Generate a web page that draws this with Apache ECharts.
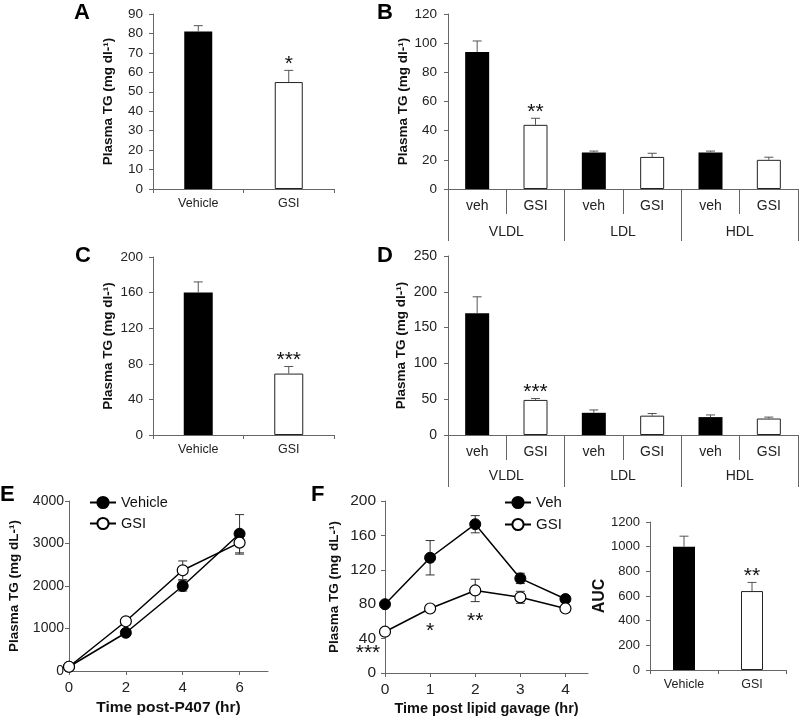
<!DOCTYPE html>
<html>
<head>
<meta charset="utf-8">
<script src="https://cdn.jsdelivr.net/npm/echarts@6/dist/echarts.min.js"></script>
<style>
  html, body { margin: 0; padding: 0; background: #fff; }
  #chart { width: 800px; height: 718px; }
</style>
</head>
<body>
<div id="chart"></div>
<script>
// ---- data ----
// A: total plasma TG
const aCats = ['Vehicle', 'GSI'];
const aVals = [81, 55];
const aErr = [3, 6];
const aStars = ['', '*'];

// B: lipoprotein fractions
const fracCats = ['veh', 'GSI', 'veh', 'GSI', 'veh', 'GSI'];
const lipoGroups = ['VLDL', 'LDL', 'HDL'];
const bVals = [94, 44, 25, 22, 25, 20];
const bErr = [7.5, 4.5, 1, 2.5, 1, 1.8];
const bStars = ['', '**', '', '', '', ''];

// C
const cCats = ['Vehicle', 'GSI'];
const cVals = [160, 69];
const cErr = [12, 8];
const cStars = ['', '***'];

// D
const dVals = [170, 49, 31, 27, 25, 23];
const dErr = [23, 2, 4, 3, 3, 2];
const dStars = ['', '***', '', '', '', ''];

// E: P407 time course
const eTime = [0, 2, 4, 6];
const eVeh = [100, 900, 2000, 3230];
const eVehErr = [40, 60, 120, 450];
const eGsi = [100, 1170, 2370, 3020];
const eGsiErr = [40, 60, 220, 270];

// F: lipid gavage time course
const fTime = [0, 1, 2, 3, 4];
const fVeh = [80, 134, 173, 110, 86];
const fVehErr = [2, 20, 10, 6, 3];
const fGsi = [48, 75, 96, 88, 75];
const fGsiErr = [2, 3, 13, 7, 3];
const fStars = ['***', '*', '**', '', ''];

// AUC
const aucCats = ['Vehicle', 'GSI'];
const aucVals = [1000, 640];
const aucErr = [85, 70];
const aucStars = ['', '**'];

const FONT = '"Liberation Sans", Arial, sans-serif';
const AXIS = '#666';
const TG_DL = 'Plasma TG (mg dl-\u00b9)';
const TG_DLL = 'Plasma TG (mg dL-\u00b9)';

let myChart = echarts.init(document.getElementById('chart'), null, { renderer: 'canvas' });

function yAx(grid, max, interval, name, gap, labelSize, nameSize, margin) {
    return {
        type: 'value', gridIndex: grid, min: 0, max: max, interval: interval,
        name: name, nameLocation: 'middle', nameGap: gap,
        nameTextStyle: { fontFamily: FONT, fontWeight: 'bold', fontSize: nameSize, color: '#111' },
        axisLine: { show: true, lineStyle: { color: AXIS } },
        axisTick: { show: true, length: 4, lineStyle: { color: AXIS } },
        axisLabel: {
            fontFamily: FONT, fontSize: labelSize, color: '#222', margin: margin,
            formatter: function (v) { return String(v); }   // no thousands separator
        },
        splitLine: { show: false }
    };
}

function catAx(grid, cats, fontSize, margin, tickLen) {
    return {
        type: 'category', gridIndex: grid, data: cats, position: 'bottom',
        axisLine: { show: true, lineStyle: { color: AXIS } },
        axisTick: { show: true, length: tickLen, lineStyle: { color: AXIS } },
        axisLabel: { fontFamily: FONT, fontSize: fontSize, color: '#222', margin: margin, interval: 0 }
    };
}

// second row of labels under B / D (VLDL, LDL, HDL)
function groupAx(grid, margin) {
    return {
        type: 'category', gridIndex: grid, data: lipoGroups, position: 'bottom', offset: 0,
        axisLine: { show: false },
        axisTick: { show: true, length: 52, lineStyle: { color: AXIS } },
        axisLabel: { fontFamily: FONT, fontSize: 14, color: '#222', margin: margin, interval: 0 }
    };
}

function barSeries(xi, yi, vals, width) {
    return {
        type: 'bar', xAxisIndex: xi, yAxisIndex: yi, barWidth: width, silent: true,
        data: vals.map((v, i) => ({
            value: v,
            itemStyle: i % 2 === 0
                ? { color: '#000', borderColor: '#000', borderWidth: 0 }
                : { color: '#fff', borderColor: '#222', borderWidth: 1 }
        }))
    };
}

// upward-only error bar (Excel style) + significance stars above it
function barErr(xi, yi, vals, errs, stars) {
    return {
        type: 'custom', xAxisIndex: xi, yAxisIndex: yi, z: 3, silent: true,
        data: vals.map((v, i) => [i, v, v + errs[i]]),
        renderItem: function (params, api) {
            let base = api.coord([api.value(0), api.value(1)]);
            let top = api.coord([api.value(0), api.value(2)]);
            let kids = [
                { type: 'line', shape: { x1: top[0], y1: base[1], x2: top[0], y2: top[1] }, style: { stroke: '#555', lineWidth: 1 } },
                { type: 'line', shape: { x1: top[0] - 4.5, y1: top[1], x2: top[0] + 4.5, y2: top[1] }, style: { stroke: '#555', lineWidth: 1 } }
            ];
            let s = stars[params.dataIndex];
            if (s) {
                kids.push({
                    type: 'text',
                    style: { text: s, x: top[0], y: top[1] - 6, align: 'center', verticalAlign: 'middle', fontSize: 21, fontFamily: FONT, fill: '#111' }
                });
            }
            return { type: 'group', children: kids };
        }
    };
}

// symmetric error bar for the time courses
function lineErr(xi, yi, xs, vals, errs, stars) {
    return {
        type: 'custom', xAxisIndex: xi, yAxisIndex: yi, z: 1, silent: true,
        data: vals.map((v, i) => [xs[i], v - errs[i], v + errs[i]]),
        renderItem: function (params, api) {
            let lo = api.coord([api.value(0), api.value(1)]);
            let hi = api.coord([api.value(0), api.value(2)]);
            let kids = [
                { type: 'line', shape: { x1: lo[0], y1: lo[1], x2: hi[0], y2: hi[1] }, style: { stroke: '#333', lineWidth: 1 } },
                { type: 'line', shape: { x1: lo[0] - 4.5, y1: lo[1], x2: lo[0] + 4.5, y2: lo[1] }, style: { stroke: '#333', lineWidth: 1 } },
                { type: 'line', shape: { x1: hi[0] - 4.5, y1: hi[1], x2: hi[0] + 4.5, y2: hi[1] }, style: { stroke: '#333', lineWidth: 1 } }
            ];
            let s = stars ? stars[params.dataIndex] : '';
            if (s) {
                // first star group is pushed left off the y axis
                let dx = params.dataIndex === 0 ? -17 : 0;
                kids.push({
                    type: 'text',
                    style: { text: s, x: lo[0] + dx, y: lo[1] + 20, align: 'center', verticalAlign: 'middle', fontSize: 21, fontFamily: FONT, fill: '#111' }
                });
            }
            return { type: 'group', children: kids };
        }
    };
}

function lineSeries(name, xi, yi, xs, vals, filled) {
    return {
        name: name, type: 'line', xAxisIndex: xi, yAxisIndex: yi, z: 3, silent: true,
        data: vals.map((v, i) => [xs[i], v]),
        symbol: 'circle', symbolSize: 11, showAllSymbol: true,
        lineStyle: { color: '#000', width: 1.5 },
        itemStyle: filled
            ? { color: '#000', borderColor: '#000', borderWidth: 1 }
            : { color: '#fff', borderColor: '#000', borderWidth: 1.2 }
    };
}

function panelLetter(t, x, y) {
    return { type: 'text', left: x, top: y, style: { text: t, fontFamily: FONT, fontWeight: 'bold', fontSize: 22, fill: '#000' } };
}

let option = {
    backgroundColor: '#fff',
    animation: false,
    textStyle: { fontFamily: FONT },
    grid: [
        { left: 153, top: 14, width: 181, height: 175 },   // A
        { left: 448, top: 14, width: 350, height: 175 },   // B
        { left: 153, top: 257, width: 181, height: 178 },  // C
        { left: 448, top: 256, width: 350, height: 179 },  // D
        { left: 69, top: 501, width: 199, height: 170 },   // E
        { left: 385, top: 501, width: 203, height: 172 },  // F
        { left: 650, top: 522, width: 136, height: 148 }   // AUC
    ],
    xAxis: [
        catAx(0, aCats, 12.5, 8, 4),
        catAx(1, fracCats, 14, 10, 25),
        groupAx(1, 36),
        catAx(2, cCats, 12.5, 8, 4),
        catAx(3, fracCats, 14, 10, 25),
        groupAx(3, 34),
        {
            type: 'value', gridIndex: 4, min: 0, max: 7,
            name: 'Time post-P407 (hr)', nameLocation: 'middle', nameGap: 29,
            nameTextStyle: { fontFamily: FONT, fontWeight: 'bold', fontSize: 15.5, color: '#111' },
            axisLine: { show: true, onZero: false, lineStyle: { color: AXIS } },
            axisTick: { show: true, length: 4, customValues: eTime, lineStyle: { color: AXIS } },
            axisLabel: { fontSize: 15, color: '#222', margin: 9, customValues: eTime },
            splitLine: { show: false }
        },
        {
            type: 'value', gridIndex: 5, min: 0, max: 4.5,
            name: 'Time post lipid gavage (hr)', nameLocation: 'middle', nameGap: 28,
            nameTextStyle: { fontFamily: FONT, fontWeight: 'bold', fontSize: 14.5, color: '#111' },
            axisLine: { show: true, onZero: false, lineStyle: { color: AXIS } },
            axisTick: { show: true, length: 4, customValues: fTime, lineStyle: { color: AXIS } },
            axisLabel: { fontSize: 15.5, color: '#222', margin: 9, customValues: fTime },
            splitLine: { show: false }
        },
        catAx(6, aucCats, 12.5, 8, 4)
    ],
    yAxis: [
        yAx(0, 90, 10, TG_DL, 38, 13.5, 13.5, 10),
        yAx(1, 120, 20, TG_DL, 38, 13.5, 13.5, 11),
        yAx(2, 200, 40, TG_DL, 38, 13.5, 13.5, 10),
        yAx(3, 250, 50, TG_DL, 40, 14, 13.5, 11),
        yAx(4, 4000, 1000, TG_DLL, 48, 14, 13.5, 5),
        yAx(5, 200, 40, TG_DLL, 44, 15.5, 13.5, 9),
        yAx(6, 1200, 200, 'AUC', 33, 13, 16, 10)
    ],
    legend: [
        {
            data: ['Vehicle', 'GSI'], orient: 'vertical', left: 89, top: 495, padding: 0,
            itemWidth: 26, itemHeight: 14, itemGap: 6, selectedMode: false,
            textStyle: { fontFamily: FONT, fontSize: 14.5, color: '#111' }
        },
        {
            data: ['Veh', 'GSI'], orient: 'vertical', left: 504, top: 495, padding: 0,
            itemWidth: 26, itemHeight: 14, itemGap: 7, selectedMode: false,
            textStyle: { fontFamily: FONT, fontSize: 15, color: '#111' }
        }
    ],
    graphic: [
        panelLetter('A', 74, 2),
        panelLetter('B', 377, 2),
        panelLetter('C', 75, 245),
        panelLetter('D', 377, 245),
        panelLetter('E', 0, 484),
        panelLetter('F', 311, 484)
    ],
    series: [
        barSeries(0, 0, aVals, 28), barErr(0, 0, aVals, aErr, aStars),
        barSeries(1, 1, bVals, 24), barErr(1, 1, bVals, bErr, bStars),
        barSeries(3, 2, cVals, 29), barErr(3, 2, cVals, cErr, cStars),
        barSeries(4, 3, dVals, 24), barErr(4, 3, dVals, dErr, dStars),
        lineErr(6, 4, eTime, eVeh, eVehErr, null),
        lineErr(6, 4, eTime, eGsi, eGsiErr, null),
        lineSeries('Vehicle', 6, 4, eTime, eVeh, true),
        lineSeries('GSI', 6, 4, eTime, eGsi, false),
        lineErr(7, 5, fTime, fVeh, fVehErr, null),
        lineErr(7, 5, fTime, fGsi, fGsiErr, fStars),
        lineSeries('Veh', 7, 5, fTime, fVeh, true),
        lineSeries('GSI', 7, 5, fTime, fGsi, false),
        barSeries(8, 6, aucVals, 22), barErr(8, 6, aucVals, aucErr, aucStars)
    ]
};

myChart.setOption(option);
</script>
</body>
</html>
